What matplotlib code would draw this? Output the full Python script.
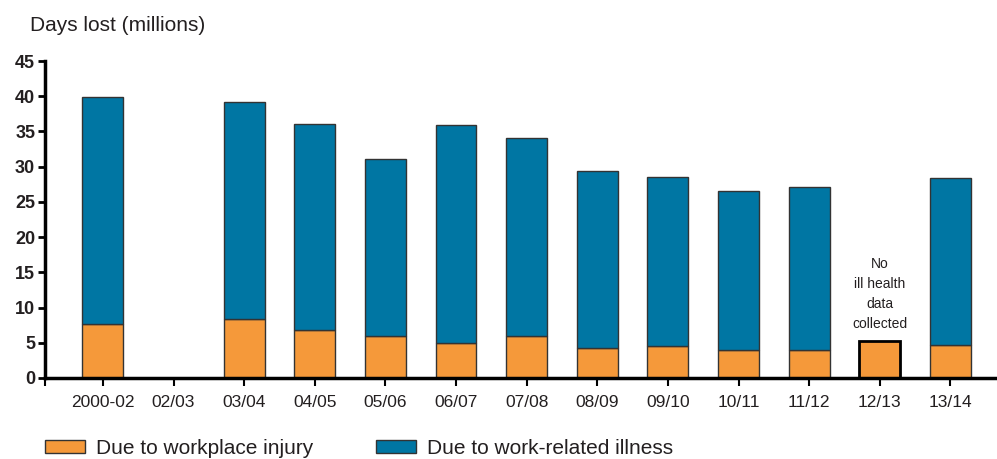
import numpy as np
import matplotlib.pyplot as plt
from matplotlib.patches import Patch

plt.rcParams['font.family'] = ['Liberation Sans', 'DejaVu Sans']

# 数据
years = ['2000-02', '02/03', '03/04', '04/05', '05/06', '06/07', '07/08',
         '08/09', '09/10', '10/11', '11/12', '12/13', '13/14']
injury = [7.7, 0, 8.4, 6.8, 6.0, 5.0, 6.0, 4.3, 4.5, 4.0, 4.0, 5.3, 4.7]
total = [39.9, 0, 39.2, 36.1, 31.1, 35.9, 34.1, 29.4, 28.6, 26.6, 27.1, 5.3, 28.4]
illness = [t - i for t, i in zip(total, injury)]

orange = '#F5993A'
blue = '#0076A3'
txt = '#231F20'

fig = plt.figure(figsize=(9.97, 4.59), dpi=100)
ax = fig.add_axes([0.0451, 0.1765, 0.9549, 0.6905])

x = np.arange(len(years))
w = 0.58
for k in range(len(years)):
    if total[k] == 0:
        continue
    if years[k] == '12/13':
        # 只有工伤数据
        ax.bar(x[k], injury[k], w, color=orange, edgecolor='black', linewidth=2, zorder=3)
        ax.text(x[k], injury[k] + 1.4, 'No\nill health\ndata\ncollected', ha='center', va='bottom',
                fontsize=10, color=txt, linespacing=1.55)
        continue
    ax.bar(x[k], injury[k], w, color=orange, edgecolor='#333333', linewidth=1, zorder=3)
    ax.bar(x[k], illness[k], w, bottom=injury[k], color=blue, edgecolor='#333333', linewidth=1, zorder=3)

left = -0.82
ax.set_xlim(left, 12.66)
ax.set_ylim(0, 45)
ax.set_yticks(range(0, 50, 5))
ax.set_yticklabels([str(v) for v in range(0, 50, 5)], fontweight='bold', fontsize=13, color=txt)
ax.set_xticks(list(x) + [left])
ax.set_xticklabels(years + [''], fontsize=12.5, color=txt)

for s in ['top', 'right']:
    ax.spines[s].set_visible(False)
for s in ['left', 'bottom']:
    ax.spines[s].set_linewidth(2.5)
    ax.spines[s].set_zorder(4)
ax.tick_params(axis='y', direction='out', length=5, width=2, pad=2)
ax.tick_params(axis='x', direction='out', length=6, width=1.5, pad=6)

fig.text(0.03, 0.945, 'Days lost (millions)', fontsize=15, color=txt, va='center')

# 图例
for xpos, col, lab in [(0.045, orange, 'Due to workplace injury'),
                       (0.377, blue, 'Due to work-related illness')]:
    fig.legend(handles=[Patch(facecolor=col, edgecolor='#333333', label=lab)],
               loc='lower left', bbox_to_anchor=(xpos, 0.002), frameon=False,
               fontsize=15, handlelength=1.92, handleheight=0.6, handletextpad=0.55,
               borderpad=0, borderaxespad=0, labelcolor=txt)

plt.savefig('out.png', dpi=100)
